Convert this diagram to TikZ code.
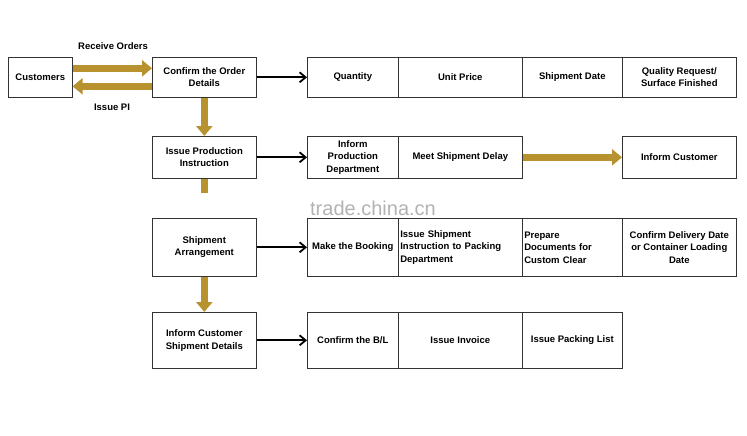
\documentclass[tikz,border=0pt]{standalone}
\usepackage{fontspec}
\setmainfont{Liberation Sans}
\usetikzlibrary{arrows.meta}
\definecolor{gold}{HTML}{B8922E}
\begin{document}
\begin{tikzpicture}[x=1pt,y=-1pt,
 box/.style={draw=black!80,line width=0.6pt,minimum height=#1,inner sep=1pt,align=center,anchor=north west,font=\fontsize{9.5}{12.5}\selectfont\bfseries},
 b/.style={draw=black,line width=1.8pt,-{Straight Barb[length=6pt,width=10pt]}},
 g/.style={draw=gold,line width=7pt,-{Triangle[length=10pt,width=16pt]}},
 lbl/.style={font=\fontsize{9.5}{12}\selectfont\bfseries}]
\useasboundingbox (0,0) rectangle (747,436);
% left column
\node[box=40pt,minimum width=64pt] (cu) at (8,57) {Customers};
\node[box=40pt,minimum width=104pt] (co) at (152,57) {Confirm the Order\\Details};
\node[box=42pt,minimum width=104pt] (ip) at (152,136) {Issue Production\\Instruction};
\node[box=58pt,minimum width=104pt] (sa) at (152,218) {Shipment\\Arrangement};
\node[box=56pt,minimum width=104pt] (ic) at (152,312) {Inform Customer\\Shipment Details};
% row 1
\node[box=40pt,minimum width=91pt] (q) at (307,57) {Quantity};
\node[box=40pt,minimum width=124pt] (up) at (398,57) {Unit Price};
\node[box=40pt,minimum width=100pt] (sd) at (522,57) {Shipment Date};
\node[box=40pt,minimum width=114pt] (qr) at (622,57) {Quality Request/\\Surface Finished};
% row 2
\node[box=42pt,minimum width=91pt] (ipd) at (307,136) {Inform\\Production\\Department};
\node[box=42pt,minimum width=124pt] (msd) at (398,136) {Meet Shipment Delay};
\node[box=42pt,minimum width=114pt] (icu) at (622,136) {Inform Customer};
% row 3
\node[box=58pt,minimum width=91pt] (mb) at (307,218) {Make the Booking};
\node[box=58pt,minimum width=124pt,text width=120pt,align=left] (isi) at (398,218) {Issue Shipment\\Instruction to Packing\\Department};
\node[box=58pt,minimum width=100pt,text width=96pt,align=left] (pd) at (522,218) {Prepare\\Documents for\\Custom Clear};
\node[box=58pt,minimum width=114pt] (cd) at (622,218) {Confirm Delivery Date\\or Container Loading\\Date};
% row 4
\node[box=56pt,minimum width=91pt] (cb) at (307,312) {Confirm the B/L};
\node[box=56pt,minimum width=124pt] (ii) at (398,312) {Issue Invoice};
\node[box=56pt,minimum width=100pt] (pl) at (522,312) {Issue Packing List};
% gold arrows
\draw[g] ([yshift=9pt]cu.east) -- ([yshift=9pt]co.west);
\draw[g] ([yshift=-9pt]co.west) -- ([yshift=-9pt]cu.east);
\node[lbl] (ro) at (113,46) {Receive Orders};
\node[lbl] (pi) at (112,107) {Issue PI};
\draw[g] (co.south) -- (ip.north);
\draw[gold,line width=7pt] (ip.south) -- ([yshift=-14pt]ip.south);
\draw[g] (sa.south) -- (ic.north);
\draw[g] (msd.east) -- (icu.west);
% black arrows
\draw[b] (co.east) -- (q.west);
\draw[b] (ip.east) -- (ipd.west);
\draw[b] (sa.east) -- (mb.west);
\draw[b] (ic.east) -- (cb.west);
\node[text=black!30,font=\fontsize{20}{24}\selectfont] (wm) at (373,208) {trade.china.cn};
\end{tikzpicture}
\end{document}
